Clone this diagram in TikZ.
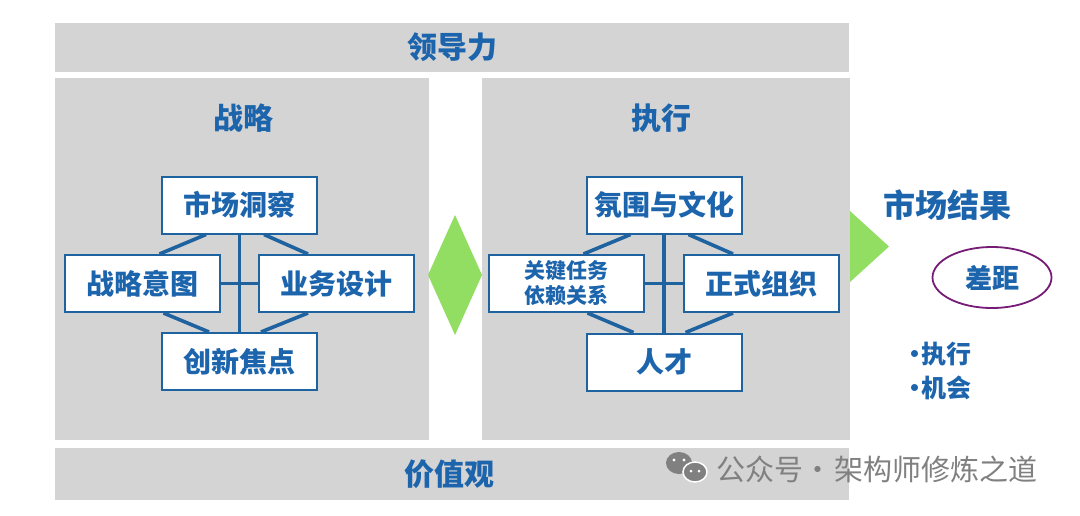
\documentclass[tikz,border=0pt]{standalone}
\usepackage{fontspec}
\setmainfont{Noto Sans CJK SC}
\usetikzlibrary{shapes.geometric}

\definecolor{txtblue}{RGB}{28,100,172}
\definecolor{lineblue}{RGB}{30,98,160}
\definecolor{panelgray}{RGB}{212,212,212}
\definecolor{diagreen}{RGB}{146,222,98}
\definecolor{gapviolet}{RGB}{118,28,118}
\definecolor{markgray}{RGB}{128,128,128}

\tikzset{
  band/.style = {fill=panelgray, inner sep=0pt, text=txtblue,
    font=\bfseries\fontsize{30}{34}\selectfont},
  heading/.style = {text=txtblue, font=\bfseries\fontsize{30}{34}\selectfont},
  box/.style = {draw=lineblue, line width=2pt, fill=white, inner sep=0pt,
    minimum width=155pt, minimum height=57pt, text=txtblue,
    font=\bfseries\fontsize{28}{32}\selectfont},
  link/.style = {draw=lineblue, line width=3.6pt}
}

\begin{document}
\begin{tikzpicture}[x=1pt,y=-1pt]
  \useasboundingbox[fill=white] (0,0) rectangle (1080,515);

  \node[band, minimum width=794pt, minimum height=49pt] (lead) at (452,47.5) {领导力};
  \node[band, minimum width=794pt, minimum height=52pt] (value) at (452,474) {\hspace*{-6pt}价值观};

  \fill[panelgray] (55,78) rectangle (429,440);
  \fill[panelgray] (482,78) rectangle (850,440);

  \node[heading] (strategy) at (243,118) {战略};
  \node[heading] (execution) at (661,118) {执行};

  % strategy boxes
  \node[box] (sc) at (239.5,205) {市场洞察};
  \node[box] (zy) at (142,283.5) {战略意图};
  \node[box] (yw) at (336.5,283.5) {业务设计};
  \node[box] (cx) at (239.5,361.5) {创新焦点};

  \draw[link] (sc) -- (cx);
  \draw[link] (zy) -- (yw);
  \draw[link] ([xshift=45pt]sc.south west) -- ([xshift=-61pt]zy.north east);
  \draw[link] ([xshift=-54pt]sc.south east) -- ([xshift=50pt]yw.north west);
  \draw[link] ([xshift=-57pt]zy.south east) -- ([xshift=48pt]cx.north west);
  \draw[link] ([xshift=50pt]yw.south west) -- ([xshift=-57pt]cx.north east);

  % execution boxes
  \node[box] (fw) at (664,205) {氛围与文化};
  \node[box, align=center, font=\bfseries\fontsize{21}{25}\selectfont] (gj) at (566,283.5) {关键任务\\依赖关系};
  \node[box] (zs) at (761.5,283.5) {正式组织};
  \node[box] (rc) at (664,362) {人才};

  \draw[link] (fw) -- (rc);
  \draw[link] (gj) -- (zs);
  \draw[link] ([xshift=45pt]fw.south west) -- ([xshift=-61pt]gj.north east);
  \draw[link] ([xshift=-54pt]fw.south east) -- ([xshift=50pt]zs.north west);
  \draw[link] ([xshift=-57pt]gj.south east) -- ([xshift=48pt]rc.north west);
  \draw[link] ([xshift=50pt]zs.south west) -- ([xshift=-57pt]rc.north east);

  % green marks
  \fill[diagreen] (455,215) -- (482,275) -- (455,335) -- (428,275) -- cycle;
  \fill[diagreen] (850,211) -- (889,246.5) -- (850,282) -- cycle;

  % market result
  \node[heading, font=\bfseries\fontsize{32}{36}\selectfont] (result) at (947,205) {市场结果};
  \node[ellipse, draw=gapviolet, line width=1.8pt, minimum width=119pt, minimum height=61pt,
    text=txtblue, font=\bfseries\fontsize{27}{30}\selectfont] (gap) at (992,277.5) {差距};
  \node[anchor=north west, align=left, inner sep=0pt, text=txtblue,
    font=\bfseries\fontsize{25}{34}\selectfont] (gaplist) at (902,342) {•\kern-6pt 执行\\•\kern-6pt 机会};

  % account mark
  \fill[markgray] (679,463) ellipse [x radius=13, y radius=11];
  \fill[markgray, draw=white, line width=1.5pt] (695,472) ellipse [x radius=12, y radius=10];
  \fill[white] (674,460) circle [radius=1.7] (684,460) circle [radius=1.7];
  \fill[white] (691,471) circle [radius=1.5] (699,471) circle [radius=1.5];
  \node[text=markgray, font=\fontsize{29}{32}\selectfont, anchor=west, inner sep=0pt] (account) at (716,469) {公众号·\kern2pt 架构师修炼之道};
\end{tikzpicture}
\end{document}
